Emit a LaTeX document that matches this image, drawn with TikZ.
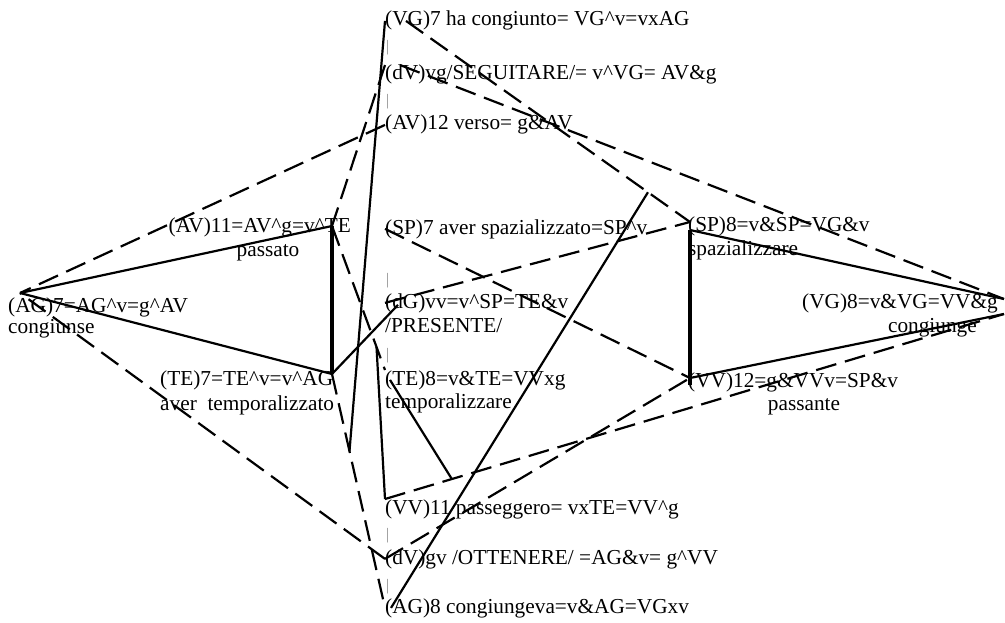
\documentclass[tikz,border=0pt]{standalone}
\usepackage{fontspec}
\setmainfont{Liberation Serif}
\usetikzlibrary{positioning, calc}
\definecolor{bargray}{HTML}{8C8C8C}

\begin{document}
\begin{tikzpicture}[x=1pt, y=-1pt,
    lbl/.style={anchor=base west, inner sep=0pt,
      font=\fontsize{21.3}{23}\selectfont},
    rlbl/.style={lbl, anchor=base east},
    clbl/.style={lbl, anchor=base},
    sep/.style={lbl, text=bargray, font=\fontsize{16}{18}\selectfont},
    edge/.style={line width=2.2pt},
    side/.style={line width=3.2pt},
    link/.style={line width=2.2pt, dash pattern=on 21pt off 9pt}
  ]
  \useasboundingbox (0,0) rectangle (1005,623);

  % central column
  \node[lbl] (vg7) at (385,26) {(VG)7 ha congiunto= VG\textasciicircum v=vxAG};
  \node[sep] (sep1) at (386,52) {|};
  \node[lbl] (dvvg) at (385,80) {(dV)vg/SEGUITARE/= v\textasciicircum VG= AV\&g};
  \node[sep] (sep2) at (386,106) {|};
  \node[lbl] (av12) at (385,130) {(AV)12 verso= g\&AV};
  \node[lbl] (sp7) at (385,234) {(SP)7 aver spazializzato=SP\textasciicircum v};
  \node[sep] (sep3) at (386,284) {|};
  \node[lbl] (dg) at (385,308) {(dG)vv=v\textasciicircum SP=TE\&v};
  \node[lbl] (presente) at (385,332) {/PRESENTE/};
  \node[sep] (sep4) at (386,359) {|};
  \node[lbl] (te8) at (385,385) {(TE)8=v\&TE=VVxg};
  \node[lbl] (temporalizzare) at (385,408) {temporalizzare};
  \node[lbl] (vv11) at (385,514) {(VV)11 passeggero= vxTE=VV\textasciicircum g};
  \node[sep] (sep5) at (386,539) {|};
  \node[lbl] (dvgv) at (385,564) {(dV)gv /OTTENERE/ =AG\&v= g\textasciicircum VV};
  \node[sep] (sep6) at (386,590) {|};
  \node[lbl] (ag8) at (385,613) {(AG)8 congiungeva=v\&AG=VGxv};

  % left triangle
  \node[rlbl] (av11) at (351,233) {(AV)11=AV\textasciicircum g=v\textasciicircum TE};
  \node[clbl] (passato) at (268,257) {passato};
  \node[lbl] (ag7) at (8,312) {(AG)7=AG\textasciicircum v=g\textasciicircum AV};
  \node[lbl] (congiunse) at (8,333) {congiunse};
  \node[lbl] (te7) at (160,385) {(TE)7=TE\textasciicircum v=v\textasciicircum AG};
  \node[lbl] (avertemp) at (160,410) {aver~~temporalizzato};

  % right triangle
  \node[lbl] (sp8) at (688,232) {(SP)8=v\&SP=VG\&v};
  \node[lbl] (spazializzare) at (688,255) {spazializzare};
  \node[rlbl] (vg8) at (998,308) {(VG)8=v\&VG=VV\&g};
  \node[rlbl] (congiunge) at (977,332) {congiunge};
  \node[lbl] (vv12) at (688,387) {(VV)12=g\&VVv=SP\&v};
  \node[clbl] (passante) at (804,410) {passante};

  \coordinate (ag7pt) at (20,293);
  \coordinate (av11pt) at (332,226);
  \coordinate (te7pt) at (332,374);
  \coordinate (sp8pt) at (690,222);
  \coordinate (sp8top) at (690,230);
  \coordinate (vv12pt) at (690,378);
  \coordinate (vg8top) at (1004,299);
  \coordinate (vg8bot) at (1004,314);

  % triangles
  \draw[edge] (ag7pt) -- (av11pt);
  \draw[edge] (ag7pt) -- (te7pt);
  \draw[side] (av11pt) -- (te7pt);
  \draw[edge] (sp8top) -- (vg8top);
  \draw[edge] (vv12pt) -- (vg8bot);
  \draw[side] (sp8top) -- (690,385);

  % dashed links
  \draw[link] ([xshift=21pt]vg7.west) -- (sp8pt);
  \draw[link] ([xshift=15pt]dvvg.north west) -- (vg8top);
  \draw[link] (dvvg.north west) -- (av11pt);
  \draw[link] (av12.west) -- (ag7pt);
  \draw[link] (sp7.west) -- (vv12pt);
  \draw[link] (dg.west) -- (sp8pt);
  \draw[link] (av11pt) -- (te8.north west);
  \draw[link] (vv11.north west) -- (vg8bot);
  \draw[link] (dvgv.west) -- (ag7pt);
  \draw[link] (dvgv.west) -- (vv12pt);
  \draw[link] (te7pt) -- (ag8.west);

  % solid links
  \draw[edge] (te7pt) -- ([xshift=13pt,yshift=-2pt]dg.west);
  \draw[edge] (vg7.west) -- ($(te7pt)!0.33!(ag8.west)$);
  \draw[edge] ([xshift=5pt]te8.west) -- ($(vv11.north west)!0.108!(vg8bot)$);
  \draw[edge] (vv11.north west) -- ($(av11pt)!0.84!(te8.north west)$);
  \draw[edge] ([xshift=6pt]ag8.west) -- ($([xshift=21pt]vg7.west)!0.852!(sp8pt)$);
\end{tikzpicture}
\end{document}
